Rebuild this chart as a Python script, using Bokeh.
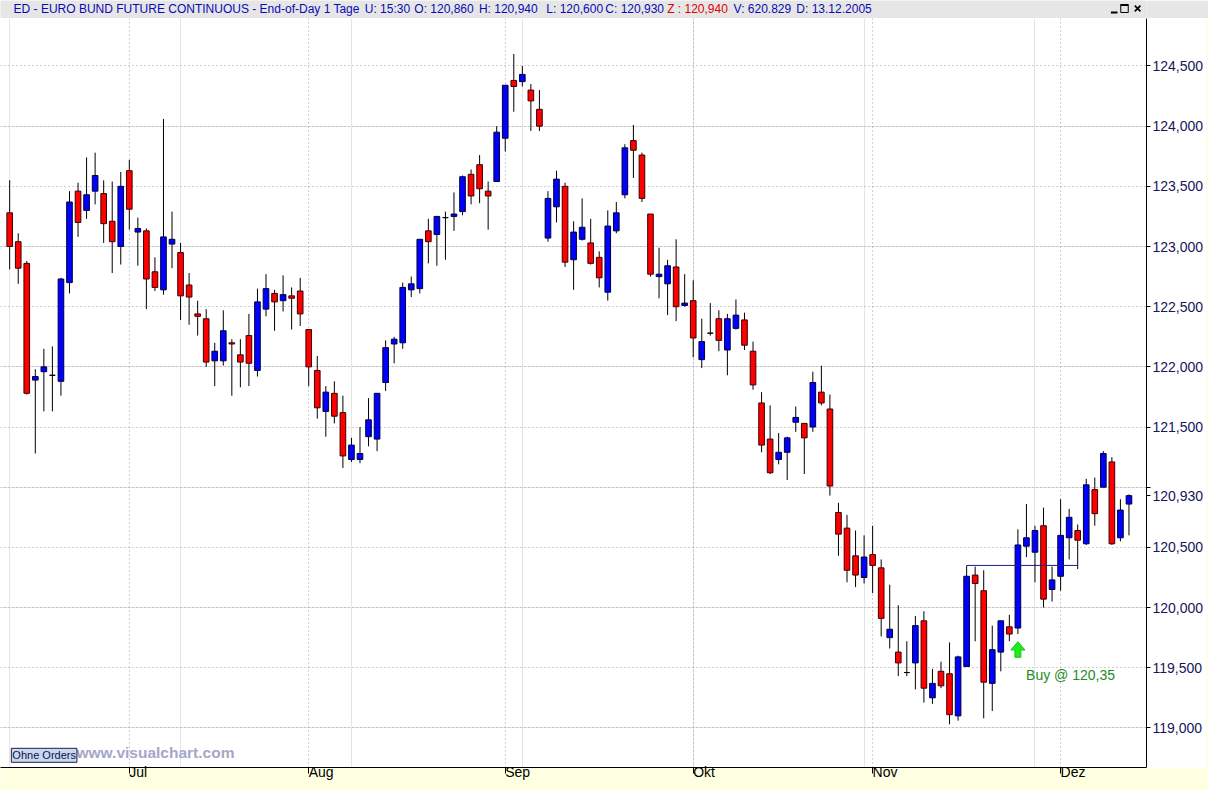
import pandas as pd
from bokeh.plotting import figure
from bokeh.models import Range1d, LinearAxis, FixedTicker, Grid, Label, ColumnDataSource
from bokeh.layouts import column
from bokeh.embed import file_html
from bokeh.resources import INLINE
from bokeh.core.properties import value

# ---------------- data ----------------
opens = [123.28, 123.04, 122.86, 121.89, 121.96, 121.93, 121.88, 122.70, 123.46, 123.30,
         123.46, 123.44, 123.21, 123.00, 123.63, 123.12, 123.13, 122.79, 122.64, 123.02,
         122.95, 122.68, 122.44, 122.40, 122.05, 122.05, 122.20, 122.10, 122.26, 121.97,
         122.48, 122.61, 122.55, 122.59, 122.63, 122.31, 121.97, 121.63, 121.78, 121.62,
         121.23, 121.23, 121.42, 121.40, 121.87, 122.19, 122.20, 122.64, 122.65, 123.13,
         123.10, 123.24, 123.25, 123.29, 123.60, 123.68, 123.46, 123.54, 123.90, 124.38,
         124.37, 124.30, 124.14, 123.07, 123.33, 123.50, 122.89, 123.06, 123.03, 122.91,
         122.62, 123.13, 123.43, 123.88, 123.76, 123.27, 122.75, 122.69, 122.83, 122.51,
         122.55, 122.06, 122.28, 122.40, 122.14, 122.32, 122.39, 122.13, 121.70, 121.40,
         121.23, 121.29, 121.54, 121.53, 121.50, 121.79, 121.65, 120.79, 120.66, 120.43,
         120.25, 120.44, 120.33, 119.75, 119.63, 119.46, 119.54, 119.89, 119.25, 119.47,
         119.45, 119.10, 119.51, 120.27, 120.14, 119.37, 119.63, 119.84, 119.83, 120.51,
         120.46, 120.68, 120.15, 120.26, 120.58, 120.64, 120.53, 120.98, 121.00, 121.21,
         120.58, 120.86]
highs = [123.55, 123.11, 122.88, 121.98, 122.15, 122.17, 122.74, 123.46, 123.53, 123.74,
         123.78, 123.55, 123.54, 123.62, 123.72, 123.24, 123.15, 122.91, 124.06, 123.29,
         123.03, 122.78, 122.55, 122.48, 122.20, 122.47, 122.23, 122.23, 122.44, 122.65,
         122.77, 122.64, 122.76, 122.66, 122.74, 122.31, 122.09, 121.84, 121.88, 121.76,
         121.41, 121.50, 121.74, 121.78, 122.22, 122.25, 122.70, 122.75, 123.06, 123.23,
         123.25, 123.29, 123.45, 123.59, 123.64, 123.76, 123.54, 124.00, 124.34, 124.60,
         124.50, 124.35, 124.30, 123.46, 123.63, 123.53, 123.21, 123.40, 123.23, 122.96,
         123.30, 123.37, 123.85, 124.01, 123.78, 123.27, 122.99, 122.89, 123.06, 122.77,
         122.72, 122.40, 122.53, 122.47, 122.44, 122.56, 122.45, 122.21, 121.79, 121.68,
         121.45, 121.42, 121.67, 121.53, 121.96, 122.01, 121.77, 120.87, 120.77, 120.64,
         120.60, 120.68, 120.40, 120.19, 120.02, 119.72, 119.93, 119.97, 119.49, 119.55,
         119.71, 119.60, 120.35, 120.34, 120.31, 119.85, 119.89, 119.94, 120.65, 120.86,
         120.68, 120.83, 120.34, 120.90, 120.82, 120.69, 121.07, 121.08, 121.30, 121.25,
         120.90, 120.94]
lows = [122.81, 122.69, 121.77, 121.28, 121.63, 121.63, 121.76, 122.61, 123.08, 123.23,
        123.35, 123.03, 122.78, 122.85, 123.14, 122.84, 122.48, 122.63, 122.60, 122.82,
        122.39, 122.35, 122.26, 122.00, 121.84, 122.01, 121.76, 121.83, 121.84, 121.92,
        122.42, 122.30, 122.46, 122.31, 122.34, 121.84, 121.57, 121.42, 121.53, 121.16,
        121.21, 121.20, 121.34, 121.30, 121.80, 122.03, 122.15, 122.58, 122.61, 122.86,
        122.84, 122.89, 123.13, 123.26, 123.35, 123.36, 123.14, 123.54, 123.79, 124.12,
        124.33, 123.96, 123.96, 123.04, 123.20, 122.83, 122.64, 123.05, 122.85, 122.66,
        122.55, 123.11, 123.40, 123.57, 123.37, 122.75, 122.57, 122.43, 122.38, 122.50,
        122.08, 121.99, 122.26, 122.13, 121.93, 122.31, 122.14, 121.81, 121.29, 121.11,
        121.19, 121.06, 121.46, 121.11, 121.46, 121.68, 120.93, 120.43, 120.21, 120.17,
        120.20, 120.12, 119.76, 119.66, 119.43, 119.43, 119.32, 119.21, 119.20, 119.33,
        119.03, 119.06, 119.51, 119.72, 119.08, 119.14, 119.47, 119.72, 119.78, 120.42,
        120.21, 120.00, 120.05, 120.14, 120.40, 120.32, 120.52, 120.68, 121.00, 120.52,
        120.55, 120.60]
closes = [123.00, 122.82, 121.78, 121.92, 122.00, 121.93, 122.73, 123.37, 123.20, 123.43,
          123.59, 123.19, 123.04, 123.50, 123.31, 123.15, 122.73, 122.66, 123.08, 123.06,
          122.59, 122.58, 122.42, 122.04, 122.13, 122.30, 122.19, 122.04, 122.03, 122.54,
          122.65, 122.54, 122.60, 122.57, 122.44, 122.00, 121.66, 121.79, 121.59, 121.26,
          121.35, 121.28, 121.56, 121.78, 122.16, 122.23, 122.66, 122.69, 123.06, 123.04,
          123.25, 123.24, 123.27, 123.58, 123.42, 123.48, 123.42, 123.95, 124.34, 124.33,
          124.43, 124.21, 124.00, 123.40, 123.56, 122.87, 123.12, 123.16, 122.86, 122.74,
          123.17, 123.28, 123.82, 123.80, 123.40, 122.77, 122.77, 122.84, 122.50, 122.53,
          122.24, 122.21, 122.28, 122.22, 122.40, 122.43, 122.18, 121.85, 121.35, 121.12,
          121.29, 121.41, 121.58, 121.41, 121.87, 121.70, 121.01, 120.61, 120.31, 120.27,
          120.42, 120.35, 119.91, 119.82, 119.54, 119.46, 119.85, 119.33, 119.37, 119.35,
          119.11, 119.59, 120.26, 120.20, 119.38, 119.65, 119.89, 119.78, 120.52, 120.58,
          120.64, 120.07, 120.23, 120.60, 120.75, 120.56, 121.02, 120.78, 121.28, 120.53,
          120.81, 120.93]

first_day, last_day = "2005-06-13", "2005-12-13"
month_labels = ["Jul", "Aug", "Sep", "Okt", "Nov", "Dez"]
price_ticks = [119.0, 119.5, 120.0, 120.5, 121.0, 121.5, 122.0, 122.5, 123.0, 123.5, 124.0, 124.5]
price_tick_labels = ["119,000", "119,500", "120,000", "120,500", "121,000", "121,500",
                     "122,000", "122,500", "123,000", "123,500", "124,000", "124,500"]

header_parts = ["ED - EURO BUND FUTURE CONTINUOUS - End-of-Day 1 Tage", "U: 15:30",
                "O: 120,860", "H: 120,940", "L: 120,600", "C: 120,930",
                "Z : 120,940", "V: 620.829", "D: 13.12.2005"]
last_price = 120.93
last_price_label = "120,930"
buy_index = 118
buy_price = 120.35
buy_label = "Buy @ 120,35"
buy_line_span = [112, 125]
watermark = "www.visualchart.com"
orders_label = "Ohne Orders"

# ---------------- layout / style ----------------
W, H_HDR, H_MAIN = 1208, 18, 772
FONT = "Liberation Sans"
BLUE_TXT = "#0A0AB4"
RED_TXT = "#E00000"
HDR_BG = "#E6E6E6"
STRIP_BG = "#FFFFE1"
GRID_C = "#A0A0A0"

# reference-picture pixel -> data coordinate helpers (layout only)
X0_PX, DX_PX = 9.3, 8.656
Y_REF_PX, Y_REF_VAL, PX_PER_UNIT = 66.7, 124.5, 123.4


def xr(px):
    return (px - X0_PX) / DX_PX


def yr(py):
    return Y_REF_VAL - (py - Y_REF_PX) / PX_PER_UNIT


# ---------------- header ----------------
hdr = figure(width=W, height=H_HDR, x_range=Range1d(0, 1224), y_range=Range1d(18, 0),
             toolbar_location=None, output_backend="svg", x_axis_location=None,
             y_axis_location=None, min_border=0, background_fill_color=HDR_BG,
             border_fill_color=HDR_BG, outline_line_color=None)
hdr_x = [14, 389, 442, 511, 583, 646, 712, 783, 850]
hdr_colors = [BLUE_TXT] * 6 + [RED_TXT] + [BLUE_TXT] * 2
hdr.text(x=hdr_x, y=[8.5] * len(hdr_x), text=header_parts, text_color=hdr_colors,
         text_font=value(FONT), text_font_size="12px", text_baseline="middle", text_align="left")
# window buttons
hdr.segment(x0=[1186], y0=[12], x1=[1193], y1=[12], line_color="black", line_width=2)
hdr.rect(x=[1200.5], y=[8], width=8, height=8, fill_color=None, line_color="black", line_width=1)
hdr.segment(x0=[1196.5], y0=[4.5], x1=[1204.5], y1=[4.5], line_color="black", line_width=2)
hdr.scatter(x=[1214.5], y=[8], marker="x", size=8, line_color="black", line_width=1.6)

# ---------------- main chart ----------------
dates = pd.bdate_range(first_day, last_day)
n = len(opens)
idx = list(range(n))
month_idx = [i for i in range(1, n) if dates[i].month != dates[i - 1].month]

fills, lines = [], []
for o, c in zip(opens, closes):
    if c > o:
        fills.append("#0000FF"); lines.append("#00003A")
    elif c < o:
        fills.append("#FF0000"); lines.append("#3A0000")
    else:
        fills.append("#000000"); lines.append("#000000")

src = ColumnDataSource(dict(
    x=idx, o=opens, h=highs, l=lows, c=closes,
    top=[max(a, b) for a, b in zip(opens, closes)],
    bottom=[min(a, b) for a, b in zip(opens, closes)],
    fill=fills, line=lines))

p = figure(width=W, height=H_MAIN,
           x_range=Range1d(xr(0), xr(1161)), y_range=Range1d(yr(786), yr(18)),
           toolbar_location=None, output_backend="svg",
           x_axis_location=None, y_axis_location=None,
           min_border_left=0, min_border_top=0, min_border_right=62, min_border_bottom=20,
           background_fill_color="white", border_fill_color=STRIP_BG, outline_line_color=None)

# price axis: the last-price marker sits on the axis and hides the 121,000 label
axis_ticks = price_ticks + [last_price]
axis_labels = {t: s for t, s in zip(price_ticks, price_tick_labels)}
axis_labels[121.0] = ""
axis_labels[last_price] = last_price_label
yax = LinearAxis(ticker=FixedTicker(ticks=axis_ticks),
                 major_label_overrides=axis_labels,
                 axis_line_color="black", major_tick_line_color="black",
                 major_tick_in=0, major_tick_out=4, minor_tick_line_color=None,
                 major_label_standoff=2, major_label_text_font=FONT,
                 major_label_text_font_size="14px", major_label_text_color="#16165A",
                 background_fill_color="white")
p.add_layout(yax, "right")

xax = LinearAxis(ticker=FixedTicker(ticks=month_idx),
                 major_label_overrides={i: m for i, m in zip(month_idx, month_labels)},
                 axis_line_color="black", major_tick_line_color="black",
                 major_tick_in=0, major_tick_out=6, minor_tick_line_color=None,
                 major_label_standoff=-2, major_label_orientation=-0.0001,
                 major_label_text_font=FONT, major_label_text_font_size="14px",
                 major_label_text_color="black")
p.add_layout(xax, "below")

p.add_layout(Grid(dimension=0, ticker=FixedTicker(ticks=month_idx),
                  grid_line_color=GRID_C, grid_line_dash="1 3"))
p.add_layout(Grid(dimension=1, ticker=FixedTicker(ticks=price_ticks),
                  grid_line_color=GRID_C, grid_line_dash="1 3"))

# candles
p.segment(x0="x", y0="h", x1="x", y1="l", source=src, line_color="black", line_width=1)
p.vbar(x="x", width=0.66, top="top", bottom="bottom", source=src,
       fill_color="fill", line_color="line", line_width=1)

# buy level line
p.segment(x0=[buy_line_span[0]], y0=[buy_price], x1=[buy_line_span[1]], y1=[buy_price],
          line_color="#1A1A8C", line_width=1)

# green arrow under the buy candle
tip = yr(657); base = yr(665.5); bot = yr(673)
hw, sw = 7.2 / DX_PX, 3.0 / DX_PX
ax = [buy_index, buy_index + hw, buy_index + sw, buy_index + sw,
      buy_index - sw, buy_index - sw, buy_index - hw]
ay = [tip, base, base, bot, bot, base, base]
p.patch(x=ax, y=ay, fill_color="#1EEA1E", line_color="#14C814", line_width=1)

p.add_layout(Label(x=xr(1039), y=yr(691), text=buy_label, text_font=FONT,
                   text_font_size="14px", text_color="#1E8C1E",
                   text_baseline="middle", text_align="left"))

# watermark and orders box
p.add_layout(Label(x=xr(77), y=yr(770.5), text=watermark, text_font=FONT,
                   text_font_size="15.5px", text_font_style="bold", text_color="#A6A6C6",
                   text_baseline="middle", text_align="left"))
p.add_layout(Label(x=xr(11), y=yr(773.5), text=orders_label, text_font=FONT,
                   text_font_size="11px", text_color="#10104A",
                   text_baseline="middle", text_align="left",
                   background_fill_color="#C8D8F0", border_line_color="#202040", padding=1))

layout = column(hdr, p, spacing=0)
open("out.html", "w").write(file_html(layout, INLINE))
